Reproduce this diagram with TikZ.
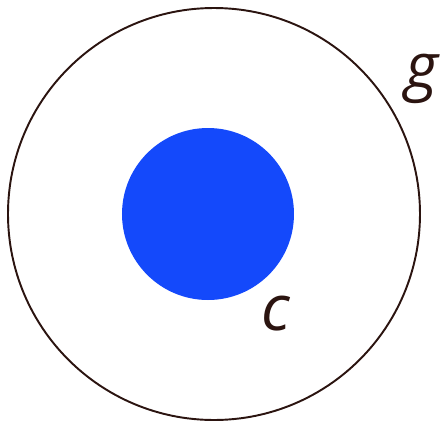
\documentclass[tikz,border=0pt]{standalone}
\usepackage{fontspec}
\setmainfont{Open Sans}
\usepackage{tikz}

\definecolor{ringcol}{HTML}{2B1410}
\definecolor{dotblue}{HTML}{1449FB}

\begin{document}
\begin{tikzpicture}[
						x=0.02cm, y=-0.02cm,
						every node/.style={font=\fontsize{36}{40}\selectfont\itshape, text=ringcol},
						line cap=round,
						line join=round
						]
						
						\useasboundingbox (0,0) rectangle (441,427);
						
						% outer ring g
						\draw[ringcol, line width=1.1pt] (214,214) circle (206);
						\node[anchor=base] (g) at (422,88) {g};
						
						% inner disc c
						\fill[dotblue] (208,214) circle (86);
						\node[anchor=base] (c) at (276,330) {c};
						
					\end{tikzpicture}
\end{document}
